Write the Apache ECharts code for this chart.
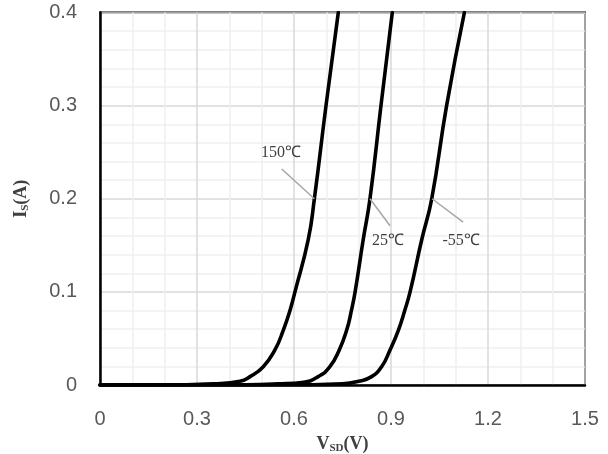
<!DOCTYPE html>
<html>
<head>
<meta charset="utf-8">
<script src="https://cdn.jsdelivr.net/npm/echarts@6/dist/echarts.min.js"></script>
<style>
  html, body { margin: 0; padding: 0; background: #fff; }
  #chart { width: 608px; height: 454px; }
</style>
</head>
<body>
<div id="chart"></div>
<script>
// Body-diode forward characteristic: source current vs. source-drain voltage
const temps = ['150℃', '25℃', '-55℃'];

const vsd150 = [0, 0.25, 0.35, 0.433, 0.464, 0.505, 0.541, 0.567, 0.588, 0.603, 0.644, 0.663, 0.699, 0.737];
const is150  = [0, 0.0003, 0.0012, 0.004, 0.009, 0.0197, 0.0376, 0.059, 0.0806, 0.100, 0.156, 0.200, 0.300, 0.400];

const vsd25 = [0, 0.45, 0.55, 0.630, 0.675, 0.711, 0.740, 0.763, 0.778, 0.789, 0.814, 0.835, 0.869, 0.904];
const is25  = [0, 0.0003, 0.0012, 0.003, 0.009, 0.0197, 0.0376, 0.059, 0.0806, 0.100, 0.156, 0.200, 0.300, 0.400];

const vsdM55 = [0, 0.65, 0.75, 0.800, 0.840, 0.871, 0.897, 0.923, 0.943, 0.959, 0.995, 1.026, 1.072, 1.127];
const isM55  = [0, 0.0003, 0.0012, 0.004, 0.009, 0.0197, 0.0376, 0.059, 0.0806, 0.100, 0.156, 0.200, 0.300, 0.400];

const xTicks = [0, 0.3, 0.6, 0.9, 1.2, 1.5];
const yTicks = [0, 0.1, 0.2, 0.3, 0.4];

const zip = (xs, ys) => xs.map((x, i) => [x, ys[i]]);

const leaderStyle = { color: '#a6a6a6', width: 1.5, type: 'solid' };
const tagLabel = {
  show: true,
  position: 'inside',
  fontFamily: '"Liberation Serif", "Times New Roman", serif',
  fontSize: 16,
  color: '#404040',
  formatter: p => p.name
};

function curve(name, xs, ys, from, to, at) {
  return {
    name: name,
    type: 'line',
    data: zip(xs, ys),
    smooth: 0.5,
    showSymbol: false,
    clip: true,
    lineStyle: { color: '#000', width: 3.6, join: 'round', cap: 'round' },
    z: 3,
    markLine: {
      silent: true,
      symbol: ['none', 'none'],
      label: { show: false },
      lineStyle: leaderStyle,
      data: [[{ coord: from }, { coord: to }]],
      animation: false
    },
    markPoint: {
      silent: true,
      symbol: 'circle',
      symbolSize: 0,
      label: tagLabel,
      data: [{ name: name, coord: at }],
      animation: false
    }
  };
}

const chart = echarts.init(document.getElementById('chart'), null, { renderer: 'canvas' });

const tickFont = {
  fontFamily: '"Liberation Sans", Arial, sans-serif',
  fontSize: 20,
  color: '#595959'
};
const titleRich = {
  b: { fontFamily: '"Liberation Serif", "Times New Roman", serif', fontWeight: 'bold', fontSize: 18, color: '#404040' },
  s: { fontFamily: '"Liberation Serif", "Times New Roman", serif', fontWeight: 'bold', fontSize: 11, color: '#404040', verticalAlign: 'bottom', padding: [8, 0, 0, 0] }
};

chart.setOption({
  animation: false,
  backgroundColor: '#fff',
  grid: {
    left: 100, right: 23, top: 12.5, bottom: 69,
    outerBoundsMode: 'none',
    containLabel: false,
    show: true, borderColor: '#000', borderWidth: 2, backgroundColor: 'transparent'
  },
  xAxis: {
    type: 'value',
    min: xTicks[0], max: xTicks[xTicks.length - 1], interval: 0.3,
    name: '{b|V}{s|SD}{b|(V)}',
    nameLocation: 'middle',
    nameGap: 50,
    nameTextStyle: { rich: titleRich },
    axisLine: { show: true, onZero: false, lineStyle: { color: '#000', width: 2.5 } },
    axisTick: { show: false },
    axisLabel: Object.assign({ margin: 24, formatter: v => String(+v.toFixed(1)) }, tickFont),
    splitLine: { show: true, lineStyle: { color: '#d9d9d9', width: 1.5 } },
    minorTick: { show: false, splitNumber: 3 },
    minorSplitLine: { show: true, lineStyle: { color: '#f0f0f0', width: 1.5 } }
  },
  yAxis: {
    type: 'value',
    min: yTicks[0], max: yTicks[yTicks.length - 1], interval: 0.1,
    name: '{b|I}{s|S}{b|(A)}',
    nameLocation: 'middle',
    nameGap: 69,
    nameRotate: 90,
    nameTextStyle: { rich: titleRich },
    axisLine: { show: true, onZero: false, lineStyle: { color: '#000', width: 2.5 } },
    axisTick: { show: false },
    axisLabel: Object.assign({ margin: 23, formatter: v => String(+v.toFixed(1)) }, tickFont),
    splitLine: { show: true, lineStyle: { color: '#d9d9d9', width: 1.5 } },
    minorTick: { show: false, splitNumber: 5 },
    minorSplitLine: { show: true, lineStyle: { color: '#f0f0f0', width: 1.5 } }
  },
  series: [
    curve(temps[0], vsd150, is150, [0.562, 0.232], [0.663, 0.2], [0.560, 0.249]),
    curve(temps[1], vsd25, is25, [0.835, 0.2], [0.897, 0.171], [0.891, 0.155]),
    curve(temps[2], vsdM55, isM55, [1.027, 0.2], [1.123, 0.175], [1.117, 0.155])
  ]
});
</script>
</body>
</html>
